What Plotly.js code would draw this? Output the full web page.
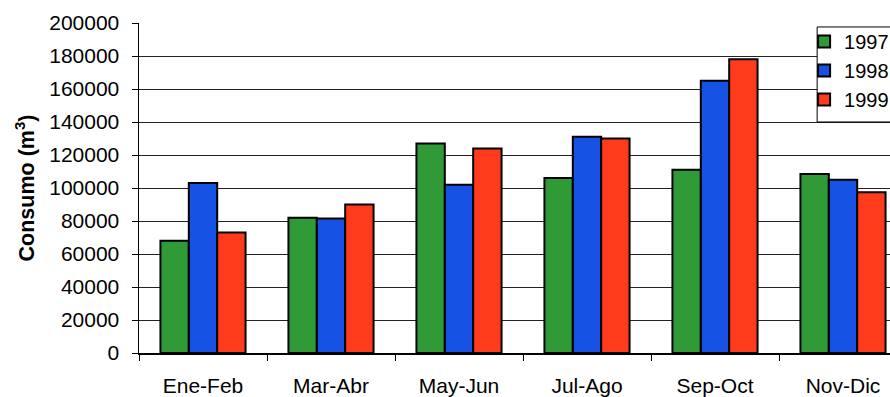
<!DOCTYPE html>
<html>
<head>
<meta charset="utf-8">
<script src="https://cdn.plot.ly/plotly-3.0.1.min.js"></script>
<style>
html,body{margin:0;padding:0;overflow:hidden;background:#fff;width:890px;height:397px;}
#chart{width:930px;height:397px;}
</style>
</head>
<body>
<div id="chart"></div>
<script>
const categories = ["Ene-Feb", "Mar-Abr", "May-Jun", "Jul-Ago", "Sep-Oct", "Nov-Dic"];
const years = ["1997", "1998", "1999"];
const values1997 = [68000, 82000, 127000, 106000, 111000, 108500];
const values1998 = [103000, 81500, 102000, 131000, 165000, 105000];
const values1999 = [73000, 90000, 124000, 130000, 178000, 97500];
const yTicks = [0, 20000, 40000, 60000, 80000, 100000, 120000, 140000, 160000, 180000, 200000];

const colors = ["#2f9a36", "#1652e4", "#ff3b1c"];
const series = [values1997, values1998, values1999];

const traces = series.map((vals, i) => ({
  type: "bar",
  name: years[i],
  x: categories,
  y: vals,
  marker: {color: colors[i], line: {color: "#000", width: 2}}
}));

const font = {family: "Liberation Sans, Arial, sans-serif", color: "#000"};

const layout = {
  width: 930,
  height: 397,
  margin: {l: 139, r: 23, t: 23, b: 44},
  paper_bgcolor: "#fff",
  plot_bgcolor: "#fff",
  barmode: "group",
  bargap: 0.335,
  bargroupgap: 0,
  showlegend: true,
  legend: {
    x: 0.866, xanchor: "left", y: 1.003, yanchor: "top",
    bgcolor: "rgba(0,0,0,0)", borderwidth: 0,
    font: Object.assign({}, font, {size: 20}),
    itemwidth: 30, tracegroupgap: 0
  },
  shapes: [{
    type: "rect", xref: "paper", yref: "paper",
    x0: 0.883, x1: 1.1, y0: 0.70, y1: 0.988,
    fillcolor: "#fff", line: {color: "#000", width: 1}, layer: "above"
  }],
  xaxis: {
    type: "category",
    tickson: "boundaries",
    ticks: "outside", ticklen: 6, tickcolor: "#000", tickwidth: 1,
    showline: true, linecolor: "#000", linewidth: 1.5,
    showgrid: false,
    tickfont: Object.assign({}, font, {size: 21}),
    ticklabelstandoff: 13
  },
  yaxis: {
    range: [0, 200000],
    tickvals: yTicks,
    ticktext: yTicks.map(String),
    ticks: "outside", ticklen: 6, tickcolor: "#000", tickwidth: 1,
    showline: true, linecolor: "#000", linewidth: 1.5,
    showgrid: true, gridcolor: "#222", gridwidth: 1,
    zeroline: false,
    tickfont: Object.assign({}, font, {size: 21}),
    ticklabelstandoff: 8,
    title: {text: "<b>Consumo (m<sup>3</sup>)</b>", font: Object.assign({}, font, {size: 21.5}), standoff: 8}
  }
};

Plotly.newPlot("chart", traces, layout, {displayModeBar: false, staticPlot: true});
</script>
</body>
</html>
